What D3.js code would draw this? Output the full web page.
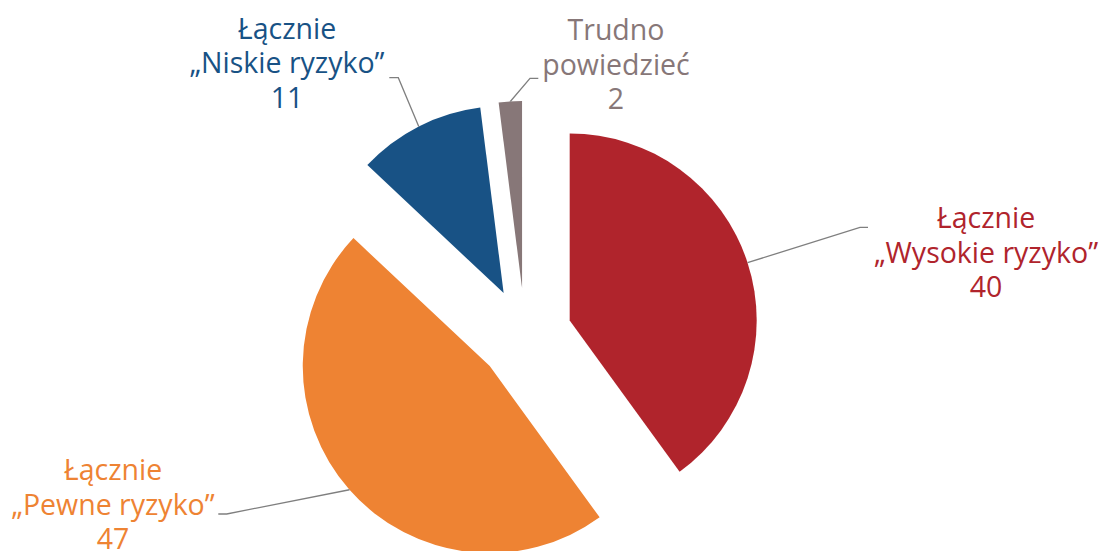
<!DOCTYPE html>
<html>
<head>
<meta charset="utf-8">
<script src="https://cdn.jsdelivr.net/npm/d3@7"></script>
<style>
  html, body { margin: 0; padding: 0; background: #ffffff; }
  svg { display: block; }
</style>
</head>
<body>
<svg id="chart" width="1105" height="551"></svg>
<script>
// Survey answers: category name lines, totals and slice colours
const categories = [
  ["Łącznie", "„Wysokie ryzyko”"],
  ["Łącznie", "„Pewne ryzyko”"],
  ["Łącznie", "„Niskie ryzyko”"],
  ["Trudno", "powiedzieć"]
];
const values = [40, 47, 11, 2];
const colors = ["#B0242C", "#EE8333", "#185285", "#877778"];

// Layout
const width = 1105, height = 551;
const cx = 525, cy = 335;        // pie centre
const radius = 187;
const explode = 47;              // distance every slice is pulled out
const fontSize = 28.5;
const lineGap = 34.5;
// label block: centre x, first baseline y; leader: elbow point, horizontal tail end
const labelLayout = [
  { x: 986, y: 228, elbow: [860, 227.3], tail: [868, 227.3] },
  { x: 113, y: 480, elbow: [226.7, 514], tail: [218.3, 514] },
  { x: 287, y: 38.5, elbow: [398.3, 77.7], tail: [389.3, 77.7] },
  { x: 616, y: 40, elbow: [530, 78.3], tail: [538.3, 78.3] }
];

const svg = d3.select("#chart");
const g = svg.append("g").attr("transform", `translate(${cx},${cy})`);

const pie = d3.pie().sort(null).value(d => d)
  .startAngle(0).endAngle(2 * Math.PI);
const arcs = pie(values);
const arc = d3.arc().innerRadius(0).outerRadius(radius);

function unit(a) { return [Math.sin(a), -Math.cos(a)]; }

arcs.forEach((d, i) => {
  const mid = (d.startAngle + d.endAngle) / 2;
  const [ux, uy] = unit(mid);
  const ox = ux * explode, oy = uy * explode;

  g.append("path")
    .attr("d", arc(d))
    .attr("transform", `translate(${ox},${oy})`)
    .attr("fill", colors[i]);

  // leader line from the outer rim at the slice's mid angle
  const sx = cx + ox + ux * radius, sy = cy + oy + uy * radius;
  const L = labelLayout[i];
  svg.append("polyline")
    .attr("points", [[sx, sy], L.elbow, L.tail].map(p => p.join(",")).join(" "))
    .attr("fill", "none")
    .attr("stroke", "#7f7f7f")
    .attr("stroke-width", 1.3);

  const lines = categories[i].concat([String(values[i])]);
  const t = svg.append("text")
    .attr("text-anchor", "middle")
    .attr("font-family", "'Open Sans', 'Noto Sans', sans-serif")
    .attr("font-size", fontSize)
    .attr("fill", colors[i]);
  lines.forEach((s, k) => {
    t.append("tspan").attr("x", L.x).attr("y", L.y + k * lineGap).text(s);
  });
});
</script>
</body>
</html>
